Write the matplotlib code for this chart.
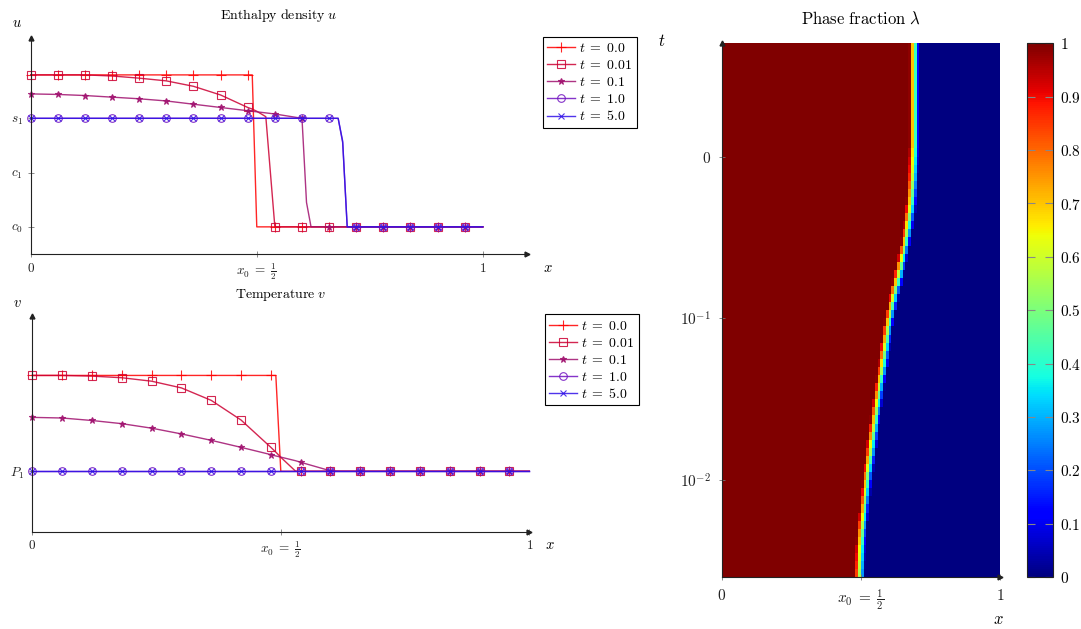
import numpy as np
import matplotlib.pyplot as plt
from matplotlib.ticker import NullLocator

plt.rcParams['mathtext.fontset'] = 'cm'
plt.rcParams['font.family'] = ['DejaVu Serif']

W, H = 1081, 629

# series labels / styles
labels = [r'$t\;=\;0.0$', r'$t\;=\;0.01$', r'$t\;=\;0.1$', r'$t\;=\;1.0$', r'$t\;=\;5.0$']
colors = ['#ff0000', '#cc0033', '#a0106e', '#7010c0', '#3010e8']
markers = ['+', 's', '*', 'o', 'x']

# enthalpy density u (c0 = 0, c1 = 1, s1 = 2)
xu = [0.00, 0.06, 0.12, 0.18, 0.24, 0.30, 0.36, 0.42, 0.48, 0.49, 0.50, 0.52, 0.54,
      0.60, 0.61, 0.62, 0.66, 0.68, 0.69, 0.70, 0.72, 0.78, 0.84, 0.90, 0.96, 1.00]
mark_u = [0, 1, 2, 3, 4, 5, 6, 7, 8, 12, 13, 16, 20, 21, 22, 23, 24]
u_t0 = [2.8, 2.8, 2.8, 2.8, 2.8, 2.8, 2.8, 2.8, 2.8, 2.8, 0, 0, 0,
        0, 0, 0, 0, 0, 0, 0, 0, 0, 0, 0, 0, 0]
u_t001 = [2.8, 2.8, 2.8, 2.78, 2.74, 2.69, 2.59, 2.43, 2.2, 2.17, 2.13, 2.03, 0,
          0, 0, 0, 0, 0, 0, 0, 0, 0, 0, 0, 0, 0]
u_t01 = [2.45, 2.44, 2.42, 2.39, 2.36, 2.32, 2.26, 2.2, 2.14, 2.13, 2.12, 2.10, 2.08,
         2.0, 0.45, 0, 0, 0, 0, 0, 0, 0, 0, 0, 0, 0]
u_t1 = [2.0, 2.0, 2.0, 2.0, 2.0, 2.0, 2.0, 2.0, 2.0, 2.0, 2.0, 2.0, 2.0,
        2.0, 2.0, 2.0, 2.0, 2.0, 1.55, 0, 0, 0, 0, 0, 0, 0]
u_t5 = [2.0, 2.0, 2.0, 2.0, 2.0, 2.0, 2.0, 2.0, 2.0, 2.0, 2.0, 2.0, 2.0,
        2.0, 2.0, 2.0, 2.0, 2.0, 1.58, 0, 0, 0, 0, 0, 0, 0]

# temperature v (P1 = 0)
xv = [0.00, 0.06, 0.12, 0.18, 0.24, 0.30, 0.36, 0.42, 0.48, 0.49, 0.50, 0.53, 0.54,
      0.60, 0.62, 0.66, 0.72, 0.78, 0.84, 0.90, 0.96, 1.00]
mark_v = [0, 1, 2, 3, 4, 5, 6, 7, 8, 12, 13, 15, 16, 17, 18, 19, 20]
v_t0 = [1, 1, 1, 1, 1, 1, 1, 1, 1, 1, 0, 0, 0, 0, 0, 0, 0, 0, 0, 0, 0, 0]
v_t001 = [1.0, 1.0, 0.993, 0.976, 0.94, 0.87, 0.74, 0.535, 0.25, 0.2, 0.146, 0, 0,
          0, 0, 0, 0, 0, 0, 0, 0, 0]
v_t01 = [0.5625, 0.556, 0.53, 0.497, 0.45, 0.39, 0.323, 0.25, 0.174, 0.16, 0.148, 0.11, 0.094,
         0.005, 0, 0, 0, 0, 0, 0, 0, 0]
v_t1 = [0] * 22
v_t5 = [0] * 22

# phase fraction: front position per time row (log-spaced rows, bottom to top)
front = [0.497, 0.498, 0.499, 0.500, 0.502, 0.504, 0.507, 0.510, 0.513, 0.516,
         0.519, 0.522, 0.525, 0.529, 0.533, 0.537, 0.540, 0.544, 0.548, 0.552,
         0.556, 0.560, 0.564, 0.568, 0.572, 0.577, 0.581, 0.585, 0.589, 0.593,
         0.597, 0.602, 0.607, 0.613, 0.619, 0.625, 0.632, 0.638, 0.644, 0.650,
         0.656, 0.662, 0.667, 0.671, 0.675, 0.679, 0.682, 0.684, 0.686, 0.688,
         0.689, 0.690, 0.691, 0.692, 0.692, 0.692, 0.692, 0.692, 0.692, 0.692,
         0.692, 0.692, 0.692, 0.692, 0.692, 0.692]

half = r'$x_0\;=\;\frac{1}{2}$'


def box(l, t, r, b):
    return [l / W, 1 - b / H, (r - l) / W, (b - t) / H]


def fpos(x, y):
    return x / W, 1 - y / H


fig = plt.figure(figsize=(W / 100, H / 100), dpi=100)


def line_axes(rect, xmax, ylo, yhi):
    ax = fig.add_axes(rect)
    ax.set_xlim(0, xmax)
    ax.set_ylim(ylo, yhi)
    ax.patch.set_alpha(0)
    for s in ['top', 'right']:
        ax.spines[s].set_visible(False)
    for s in ['left', 'bottom']:
        ax.spines[s].set_color('#222222')
        ax.spines[s].set_linewidth(0.8)
    ax.plot(1, 0, '>', color='#222222', ms=3.5, transform=ax.transAxes, clip_on=False)
    ax.plot(0, 1, '^', color='#222222', ms=3.5, transform=ax.transAxes, clip_on=False)
    ax.tick_params(direction='inout', length=5, width=0.6, color='#777777',
                   labelsize=9.5, pad=3, labelcolor='#222222')
    return ax


def draw_series(ax, xs, ys_list, mark):
    for ys, c, m, lab in zip(ys_list, colors, markers, labels):
        filled = m in ['*', '+', 'x']
        ms = {'+': 7, 's': 6, '*': 5, 'o': 5.5, 'x': 4.5}[m]
        ax.plot(xs, ys, color=c, lw=1.0, alpha=0.85, marker=m, ms=ms, mew=0.8,
                mfc=c if filled else 'none', mec=c, markevery=mark, label=lab,
                clip_on=False)


def add_legend(ax, x, y):
    leg = ax.legend(loc='upper left', bbox_to_anchor=fpos(x, y), bbox_transform=fig.transFigure,
                    borderaxespad=0, fancybox=False, edgecolor='black', framealpha=1,
                    fontsize=10, handlelength=2.0, handletextpad=0.3, labelspacing=0.22,
                    borderpad=0.32)
    leg.get_frame().set_linewidth(0.8)


# --- enthalpy
ax1 = line_axes(box(30.7, 38, 526.7, 254), 1.097, -0.5, 3.48)
draw_series(ax1, xu, [u_t0, u_t001, u_t01, u_t1, u_t5], mark_u)
ax1.set_xticks([0, 0.5, 1])
ax1.set_xticklabels(['$0$', half, '$1$'])
ax1.set_yticks([0, 1, 2])
ax1.set_yticklabels(['$c_0$', '$c_1$', '$s_1$'])
fig.text(*fpos(278.7, 16), r'$\mathrm{Enthalpy\ density}\ u$', ha='center', va='center', fontsize=10)
fig.text(*fpos(17, 23), '$u$', ha='center', va='center', fontsize=10.5)
fig.text(*fpos(548, 268), '$x$', ha='center', va='center', fontsize=10.5)
add_legend(ax1, 542.7, 36.7)

# --- temperature
ax2 = line_axes(box(32.3, 316, 529.3, 531.7), 1.0, -0.63, 1.62)
draw_series(ax2, xv, [v_t0, v_t001, v_t01, v_t1, v_t5], mark_v)
ax2.set_xticks([0, 0.5, 1])
ax2.set_xticklabels(['$0$', half, '$1$'])
ax2.set_yticks([0])
ax2.set_yticklabels(['$P_1$'])
fig.text(*fpos(280.8, 295), r'$\mathrm{Temperature}\ v$', ha='center', va='center', fontsize=10)
fig.text(*fpos(17, 303), '$v$', ha='center', va='center', fontsize=10.5)
fig.text(*fpos(550, 545), '$x$', ha='center', va='center', fontsize=10.5)
add_legend(ax2, 545, 314.3)

# --- phase fraction
x_edges = np.linspace(0, 1, 101)
x_cent = 0.5 * (x_edges[:-1] + x_edges[1:])
t_edges = 10 ** np.linspace(-2.6, 0.7, len(front) + 1)
lam = np.clip(0.5 - (x_cent[None, :] - np.array(front)[:, None]) / 0.035, 0, 1)

ax3 = fig.add_axes(box(721.7, 43.3, 1000, 577.3))
pcm = ax3.pcolormesh(x_edges, t_edges, lam, cmap='jet', vmin=0, vmax=1, shading='flat')
ax3.set_yscale('log')
ax3.set_xlim(0, 1)
ax3.set_ylim(t_edges[0], t_edges[-1])
for s in ['top', 'right']:
    ax3.spines[s].set_visible(False)
for s in ['left', 'bottom']:
    ax3.spines[s].set_color('#222222')
    ax3.spines[s].set_linewidth(0.8)
ax3.plot(1, 0, '>', color='#222222', ms=3.5, transform=ax3.transAxes, clip_on=False)
ax3.plot(0, 1, '^', color='#222222', ms=3.5, transform=ax3.transAxes, clip_on=False)
ax3.set_xticks([0, 0.5, 1])
ax3.set_xticklabels(['$0$', half, '$1$'])
ax3.set_yticks([1, 0.1, 0.01])
ax3.set_yticklabels(['$0$', '$10^{-1}$', '$10^{-2}$'])
ax3.yaxis.set_minor_locator(NullLocator())
ax3.tick_params(direction='inout', length=5, width=0.6, color='#777777',
                labelsize=11, pad=5, labelcolor='#222222')
fig.text(*fpos(861, 19), r'$\mathrm{Phase\ fraction}\ \lambda$', ha='center', va='center', fontsize=12)
fig.text(*fpos(662, 42), '$t$', ha='center', va='center', fontsize=12)
fig.text(*fpos(998, 619), '$x$', ha='center', va='center', fontsize=12)

cax = fig.add_axes(box(1026.7, 43.3, 1052.7, 577.3))
cb = fig.colorbar(pcm, cax=cax)
cb.set_ticks(np.linspace(0, 1, 11))
cb.set_ticklabels(['$0$', '$0.1$', '$0.2$', '$0.3$', '$0.4$', '$0.5$',
                   '$0.6$', '$0.7$', '$0.8$', '$0.9$', '$1$'])
cax.tick_params(direction='in', length=6, width=0.8, color='#888888', left=True, right=True,
                labelsize=11, pad=5)
cb.outline.set_linewidth(0.8)
cb.outline.set_edgecolor('#222222')

fig.savefig('out.png', dpi=100)
